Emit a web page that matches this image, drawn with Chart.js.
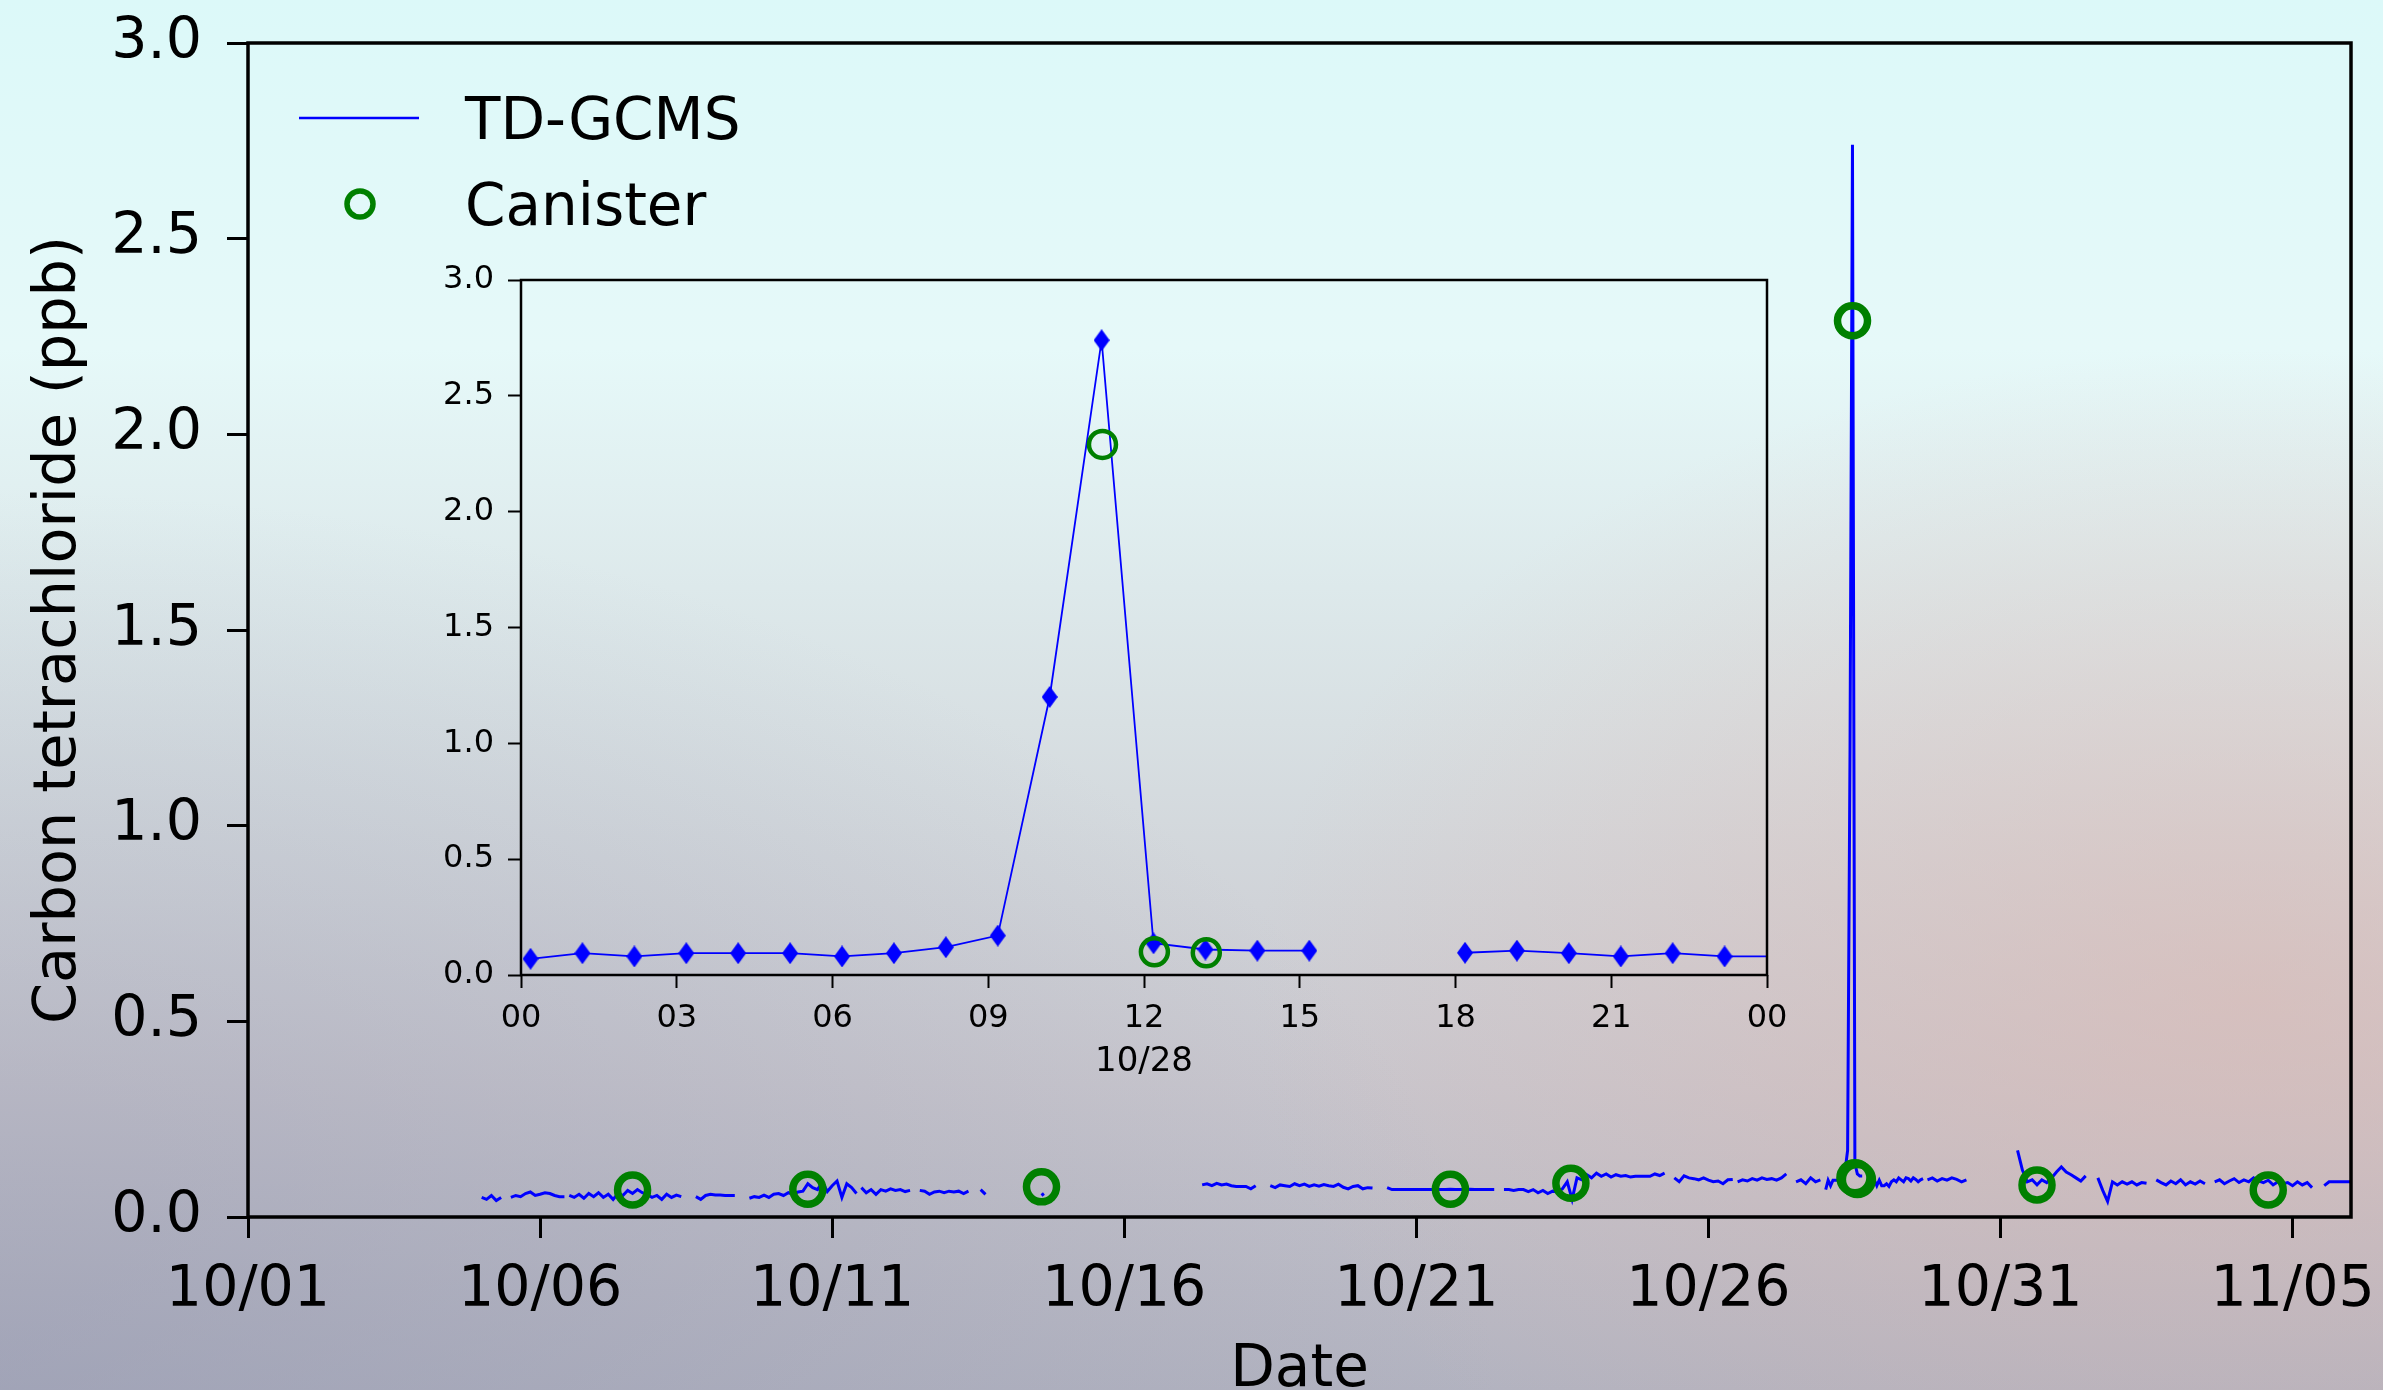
<!DOCTYPE html>
<html>
<head>
<meta charset="utf-8">
<script src="https://cdn.jsdelivr.net/npm/chart.js@4.4.1/dist/chart.umd.min.js"></script>
<style>
  html, body { margin: 0; padding: 0; }
  body {
    width: 2383px; height: 1390px; overflow: hidden; position: relative;
    background:
      radial-gradient(ellipse 1000px 650px at 2250px 1000px, rgba(222,182,174,0.55), rgba(222,182,174,0) 100%),
      radial-gradient(ellipse 1500px 900px at 0px 1390px, rgba(140,145,172,0.45), rgba(140,145,172,0) 100%),
      linear-gradient(to bottom, #dcf9f9 0%, #e6f9f9 25%, #d8e0e3 52%, #c8c6cd 78%, #b2b3c0 100%);
  }
  #main { position: absolute; left: 0; top: 0; }
  #inset { position: absolute; left: 400px; top: 250px; }
</style>
</head>
<body>
<canvas id="main" width="2383" height="1390"></canvas>
<canvas id="inset" width="1400" height="850"></canvas>
<script>
// series names
const seriesNames = ['TD-GCMS', 'Canister'];

// TD-GCMS: continuous segments (start time, step in hours, values in ppb)
const tdStart = [
  '10/05 00:00', '10/05 12:00', '10/06 12:00', '10/08 16:00', '10/09 14:00', '10/11 12:00',
  '10/12 12:00', '10/13 13:00', '10/14 14:00', '10/17 08:00', '10/18 12:00', '10/20 12:00',
  '10/22 12:00', '10/25 10:00', '10/26 12:00', '10/27 12:00', '10/28 00:11', '10/28 18:11',
  '10/29 18:00', '10/31 07:00', '11/01 16:00', '11/02 16:00', '11/03 16:00', '11/05 13:00'
];
const tdStep = [2, 2, 2, 2, 2, 2, 2, 2, 1, 2, 2, 2, 2, 2, 2, 2, 1, 1, 2, 2, 2, 2, 2, 2];
const tdValues = [
  [0.05, 0.045, 0.055, 0.042, 0.05],
  [0.05, 0.055, 0.052, 0.06, 0.064, 0.055, 0.058, 0.062, 0.06, 0.055, 0.052, 0.052],
  [0.055, 0.05, 0.058, 0.048, 0.06, 0.052, 0.062, 0.05, 0.058, 0.045, 0.06, 0.055,
   0.068, 0.06, 0.07, 0.062, 0.058, 0.05, 0.055, 0.045, 0.058, 0.05, 0.056, 0.052],
  [0.052, 0.045, 0.055, 0.058, 0.056, 0.056, 0.055, 0.055, 0.055],
  [0.048, 0.052, 0.05, 0.056, 0.05, 0.058, 0.06, 0.055, 0.062, 0.058, 0.064, 0.066,
   0.085, 0.075, 0.07, 0.09, 0.065, 0.08, 0.092, 0.05, 0.085, 0.075, 0.06],
  [0.075, 0.062, 0.07, 0.058, 0.07, 0.066, 0.072, 0.068, 0.07, 0.065, 0.068],
  [0.068, 0.066, 0.058, 0.064, 0.066, 0.062, 0.066, 0.064, 0.066, 0.06, 0.066],
  [0.07, 0.058],
  [0.055, 0.06],
  [0.082, 0.085, 0.08, 0.086, 0.082, 0.084, 0.08, 0.078, 0.078, 0.078, 0.072, 0.08],
  [0.08, 0.075, 0.082, 0.08, 0.078, 0.085, 0.08, 0.084, 0.078, 0.082, 0.079, 0.083,
   0.08, 0.078, 0.084, 0.076, 0.072, 0.078, 0.08, 0.072, 0.075, 0.074],
  [0.075, 0.07, 0.07, 0.07, 0.07, 0.07, 0.07, 0.07, 0.07, 0.07, 0.07, 0.07,
   0.07, 0.071, 0.07, 0.07, 0.07, 0.071, 0.07, 0.07, 0.07, 0.07, 0.07],
  [0.07, 0.07, 0.068, 0.07, 0.07, 0.065, 0.07, 0.062, 0.068, 0.06, 0.066, 0.064,
   0.072, 0.09, 0.045, 0.1, 0.095, 0.108, 0.1, 0.112, 0.104, 0.11, 0.102, 0.108,
   0.104, 0.106, 0.102, 0.104, 0.104, 0.104, 0.104, 0.11, 0.106, 0.112],
  [0.1, 0.09, 0.105, 0.1, 0.098, 0.095, 0.1, 0.094, 0.09, 0.092, 0.085, 0.095, 0.096],
  [0.09, 0.095, 0.092, 0.098, 0.094, 0.1, 0.096, 0.098, 0.094, 0.1, 0.11],
  [0.09, 0.095, 0.085, 0.1, 0.09, 0.095],
  [0.07, 0.094, 0.08, 0.094, 0.094, 0.094, 0.08, 0.094, 0.12, 0.17, 1.2, 2.74,
   0.137, 0.11, 0.105, 0.105],
  [0.096, 0.105, 0.094, 0.08, 0.094, 0.08, 0.08, 0.085, 0.078, 0.09, 0.095, 0.09,
   0.1, 0.095, 0.09, 0.1, 0.098, 0.092, 0.1, 0.096, 0.09, 0.095, 0.098],
  [0.095, 0.1, 0.092, 0.098, 0.094, 0.1, 0.096, 0.09, 0.095],
  [0.17, 0.12, 0.09, 0.095, 0.082, 0.095, 0.088, 0.1, 0.115, 0.128, 0.115, 0.108, 0.1, 0.092, 0.105],
  [0.1, 0.068, 0.04, 0.09, 0.082, 0.09, 0.084, 0.09, 0.082, 0.088, 0.086],
  [0.095, 0.088, 0.082, 0.092, 0.085, 0.095, 0.082, 0.09, 0.084, 0.092, 0.085],
  [0.09, 0.095, 0.085, 0.092, 0.098, 0.088, 0.095, 0.09, 0.1, 0.092, 0.088, 0.094,
   0.082, 0.09, 0.085, 0.088, 0.08, 0.09, 0.082, 0.088, 0.075],
  [0.08, 0.09, 0.09, 0.09, 0.09, 0.09, 0.09]
];

// Canister samples
const canTimes = ['10/07 14:00', '10/10 14:00', '10/14 14:00', '10/21 14:00', '10/23 15:30',
                  '10/28 11:12', '10/28 12:12', '10/28 13:12', '10/31 15:00', '11/04 14:00'];
const canValues = [0.069, 0.071, 0.077, 0.071, 0.086, 2.29, 0.10, 0.096, 0.082, 0.069];

// axes
const xMinDay = 0, xMaxDay = 36, xTickStep = 5;   // days since 10/01
const insetDay = 27;                               // 10/28
const yMax = 3.0, yTickStep = 0.5;

const BLUE = '#0000ff', GREEN = '#008000';
const FONT = 'DejaVu Sans';

function toDay(s) {
  const [md, hm] = s.split(' ');
  const [m, d] = md.split('/').map(Number);
  const [h, mi] = hm.split(':').map(Number);
  return (m === 10 ? d - 1 : 31 + d - 1) + h / 24 + mi / 1440;
}
function dayLabel(v) {
  const m = v < 31 ? 10 : 11;
  const d = v < 31 ? v + 1 : v - 30;
  return m + '/' + String(d).padStart(2, '0');
}

const tdPoints = [];
tdStart.forEach((s, i) => {
  const t0 = toDay(s);
  tdValues[i].forEach((v, j) => tdPoints.push({ x: t0 + j * tdStep[i] / 24, y: v }));
  tdPoints.push({ x: tdPoints[tdPoints.length - 1].x + 0.001, y: null });
});
const canPoints = canTimes.map((t, i) => ({ x: toDay(t), y: canValues[i] }));

const insetTd = tdPoints.map(p => ({ x: (p.x - insetDay) * 24, y: p.y }));
const insetCan = canPoints.filter(p => p.x >= insetDay && p.x < insetDay + 1)
                          .map(p => ({ x: (p.x - insetDay) * 24, y: p.y }));

// thin diamond marker
const diamond = document.createElement('canvas');
diamond.width = 16; diamond.height = 22;
const dctx = diamond.getContext('2d');
dctx.fillStyle = BLUE;
dctx.beginPath();
dctx.moveTo(8, 0); dctx.lineTo(16, 11); dctx.lineTo(8, 22); dctx.lineTo(0, 11);
dctx.closePath(); dctx.fill();

const frame = {
  id: 'frame',
  afterDraw(chart, args, opts) {
    const { ctx, chartArea: a } = chart;
    ctx.save();
    ctx.strokeStyle = '#000';
    ctx.lineWidth = opts.width;
    ctx.strokeRect(a.left, a.top, a.right - a.left, a.bottom - a.top);
    ctx.restore();
  }
};

const legendBox = {
  id: 'legendBox',
  afterDraw(chart) {
    const { ctx, chartArea: a } = chart;
    const x0 = a.left + 51, y1 = a.top + 75, y2 = a.top + 161;
    ctx.save();
    ctx.strokeStyle = BLUE; ctx.lineWidth = 2.5;
    ctx.beginPath(); ctx.moveTo(x0, y1); ctx.lineTo(x0 + 120, y1); ctx.stroke();
    ctx.strokeStyle = GREEN; ctx.lineWidth = 5.5;
    ctx.beginPath(); ctx.arc(x0 + 61, y2, 13, 0, Math.PI * 2); ctx.stroke();
    ctx.fillStyle = '#000';
    ctx.font = '58px "' + FONT + '"';
    ctx.textBaseline = 'alphabetic';
    ctx.fillText(seriesNames[0], x0 + 166, y1 + 21);
    ctx.fillText(seriesNames[1], x0 + 166, y2 + 21);
    ctx.restore();
  }
};

function axisGrid(len, w) {
  return { drawOnChartArea: false, drawTicks: true, tickLength: len, tickWidth: w, tickColor: '#000' };
}
function fixY(width) {
  return s => { s.width = width; s.paddingTop = 0; s.paddingBottom = 0; };
}
function fixX(height) {
  return s => { s.height = height; s.paddingLeft = 0; s.paddingRight = 0; };
}

// Main chart
new Chart(document.getElementById('main'), {
  type: 'line',
  data: {
    datasets: [
      {
        label: seriesNames[1], data: canPoints, showLine: false, order: 0,
        pointRadius: 15, pointBorderWidth: 7.5, pointBorderColor: GREEN,
        pointBackgroundColor: 'rgba(0,0,0,0)', borderColor: GREEN
      },
      {
        label: seriesNames[0], data: tdPoints, order: 1, spanGaps: false,
        borderColor: BLUE, borderWidth: 3, pointRadius: 0, tension: 0
      }
    ]
  },
  options: {
    responsive: false, animation: false, devicePixelRatio: 1,
    layout: { padding: { top: 43, right: 32, left: 0, bottom: 0 } },
    plugins: { legend: { display: false }, tooltip: { enabled: false }, frame: { width: 3.5 } },
    scales: {
      x: {
        type: 'linear', min: xMinDay, max: xMaxDay,
        ticks: { stepSize: xTickStep, includeBounds: false, autoSkip: false, maxRotation: 0,
                 callback: v => dayLabel(v), color: '#000', padding: 19, font: { family: FONT, size: 57 } },
        grid: axisGrid(21, 3), border: { display: false },
        title: { display: true, text: 'Date', color: '#000', padding: { top: 0, bottom: 0 },
                 font: { family: FONT, size: 58, lineHeight: 0.667 } },
        afterFit: fixX(173)
      },
      y: {
        min: 0, max: yMax,
        ticks: { stepSize: yTickStep, callback: v => v.toFixed(1), color: '#000', padding: 25,
                 font: { family: FONT, size: 57 } },
        grid: axisGrid(21, 3), border: { display: false },
        title: { display: true, text: 'Carbon tetrachloride (ppb)', color: '#000',
                 padding: { top: 30, bottom: 0 }, font: { family: FONT, size: 59, lineHeight: 1 } },
        afterFit: fixY(248)
      }
    }
  },
  plugins: [frame, legendBox]
});

// Inset: 10/28
new Chart(document.getElementById('inset'), {
  type: 'line',
  data: {
    datasets: [
      {
        label: seriesNames[1], data: insetCan, showLine: false, order: 0,
        pointRadius: 13.5, pointBorderWidth: 4.5, pointBorderColor: GREEN,
        pointBackgroundColor: 'rgba(0,0,0,0)', borderColor: GREEN
      },
      {
        label: seriesNames[0], data: insetTd, order: 1, spanGaps: false,
        borderColor: BLUE, borderWidth: 1.8, tension: 0,
        pointStyle: diamond, pointRadius: 6
      }
    ]
  },
  options: {
    responsive: false, animation: false, devicePixelRatio: 1,
    layout: { padding: { top: 30, right: 33, left: 0, bottom: 0 } },
    plugins: { legend: { display: false }, tooltip: { enabled: false }, frame: { width: 2.5 } },
    scales: {
      x: {
        type: 'linear', min: 0, max: 24,
        ticks: { stepSize: 3, autoSkip: false, maxRotation: 0, color: '#000', padding: 11,
                 callback: v => String(v % 24).padStart(2, '0'), font: { family: FONT, size: 32 } },
        grid: axisGrid(13, 2), border: { display: false },
        title: { display: true, text: '10/28', color: '#000', padding: { top: 0, bottom: 17 },
                 font: { family: FONT, size: 34 } },
        afterFit: fixX(125)
      },
      y: {
        min: 0, max: yMax,
        ticks: { stepSize: yTickStep, callback: v => v.toFixed(1), color: '#000', padding: 14,
                 font: { family: FONT, size: 32 } },
        grid: axisGrid(13, 2), border: { display: false },
        afterFit: fixY(121)
      }
    }
  },
  plugins: [frame]
});
</script>
</body>
</html>
